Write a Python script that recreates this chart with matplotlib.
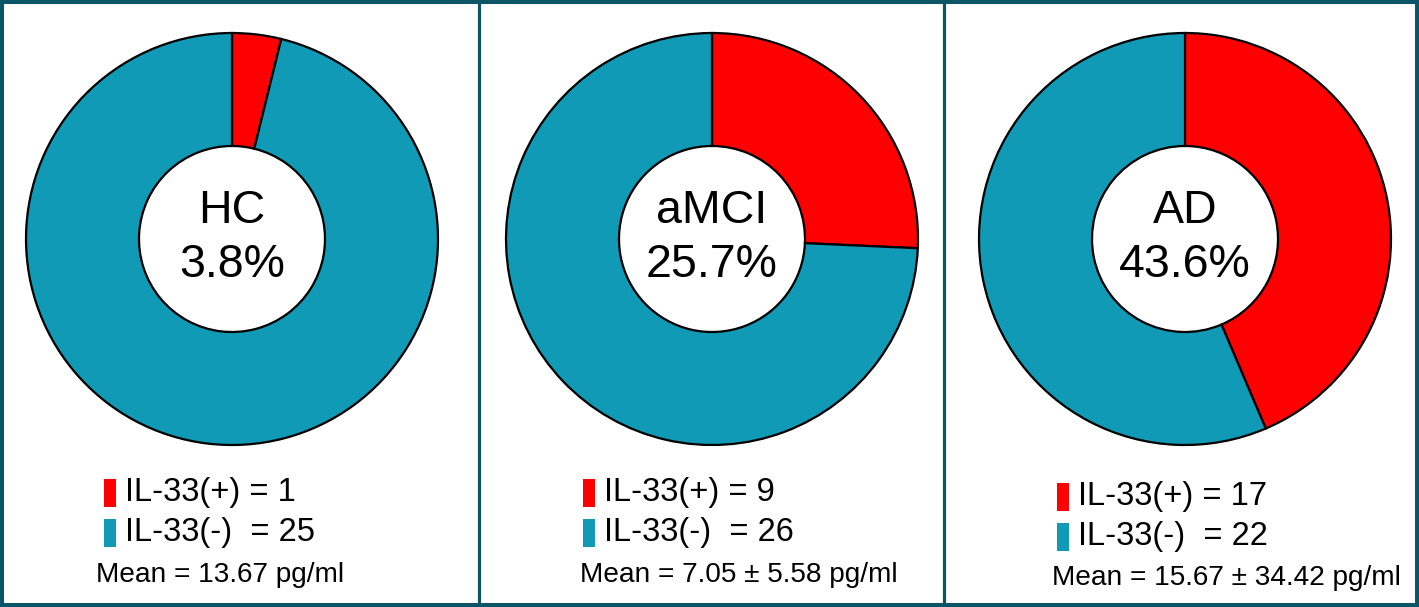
import matplotlib
matplotlib.use("Agg")
import matplotlib.pyplot as plt
from matplotlib.patches import Rectangle

plt.rcParams['font.family'] = ['Liberation Sans', 'DejaVu Sans']

groups = ["HC", "aMCI", "AD"]
positive = [1, 9, 17]
negative = [25, 26, 22]
percent_labels = ["3.8%", "25.7%", "43.6%"]
mean_labels = ["Mean = 13.67 pg/ml", "Mean = 7.05 \u00b1 5.58 pg/ml", "Mean = 15.67 \u00b1 34.42 pg/ml"]

RED = "#ff0000"
TEAL = "#109ab5"
FRAME = "#0b5566"

W, H = 1419, 607
fig = plt.figure(figsize=(W / 100, H / 100), dpi=100)
ax = fig.add_axes([0, 0, 1, 1])

centers_x = [232, 712, 1185]
center_y = 239
R = 206
r_in = 93
legend_patch_x = [104, 583, 1057]
legend_row_y = [(493, 533), (493, 533), (497, 537)]
mean_pos = [(220, 575), (739, 575), (1226, 578)]

def Y(y):
    return -y

for i in range(3):
    ax.pie([positive[i], negative[i]], colors=[RED, TEAL], startangle=90,
           counterclock=False, center=(centers_x[i], Y(center_y)), radius=R,
           wedgeprops=dict(width=R - r_in, edgecolor="black", linewidth=1.6),
           frame=True)
ax.set_xlim(0, W)
ax.set_ylim(-H, 0)
ax.set_aspect("auto")
ax.axis("off")

for i in range(3):
    cx = centers_x[i]
    ax.text(cx, Y(211), groups[i], ha="center", va="center", fontsize=33.5)
    ax.text(cx, Y(265), percent_labels[i], ha="center", va="center", fontsize=33.5)
    px = legend_patch_x[i]
    y1, y2 = legend_row_y[i]
    ax.add_patch(Rectangle((px, Y(y1) - 14), 12, 28, facecolor=RED, edgecolor="none"))
    ax.add_patch(Rectangle((px, Y(y2) - 14), 12, 28, facecolor=TEAL, edgecolor="none"))
    ax.text(px + 21, Y(y1), f"IL-33(+) = {positive[i]}", ha="left", va="center", fontsize=23.5)
    ax.text(px + 21, Y(y2), f"IL-33(-)  = {negative[i]}", ha="left", va="center", fontsize=23.5)
    mx, my = mean_pos[i]
    ax.text(mx, Y(my), mean_labels[i], ha="center", va="center", fontsize=20.2)

# frame
ax.add_patch(Rectangle((2, Y(H - 2)), W - 4, H - 4, fill=False, edgecolor=FRAME,
                       linewidth=2.9, clip_on=False))
for xd in [478.5, 944]:
    ax.plot([xd, xd], [Y(0), Y(H)], color=FRAME, linewidth=2.3)

fig.savefig("out.png", dpi=100)
